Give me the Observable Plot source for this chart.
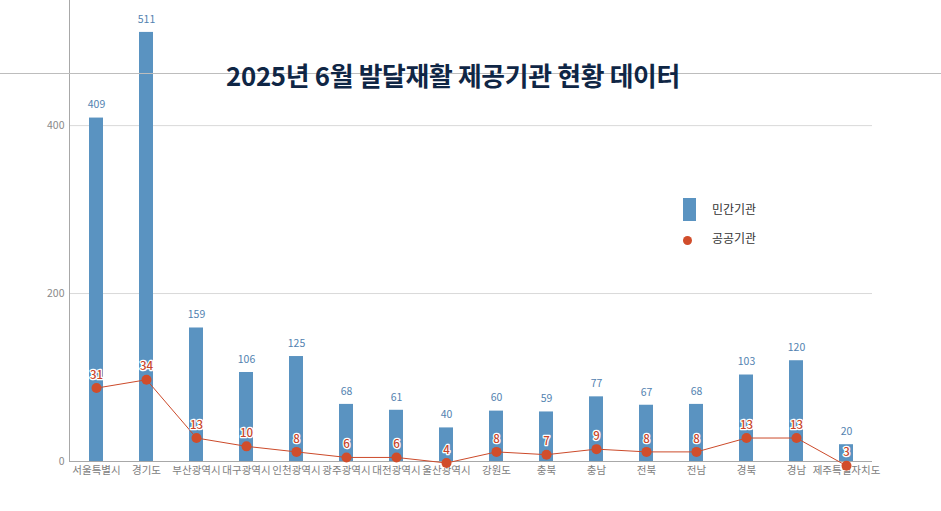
<!DOCTYPE html>
<html>
<head>
<meta charset="utf-8">
<script src="https://cdn.jsdelivr.net/npm/d3@7"></script>
<script src="https://cdn.jsdelivr.net/npm/@observablehq/plot@0.6"></script>
<style>
  html, body { margin: 0; padding: 0; background: #fff; }
  #wrap { position: relative; width: 941px; height: 511px; overflow: hidden; font-family: "Noto Sans CJK KR", "Noto Sans", sans-serif; }
  #topline { position: absolute; left: 0; top: 73px; width: 941px; height: 1px; background: #bdbdbd; }
  #title { position: absolute; left: 0; width: 906px; top: 56px; text-align: center; font-size: 25.8px; font-weight: 700; color: #0f2645; letter-spacing: -0.3px; }
  .leg { position: absolute; font-size: 12px; color: #333; }
</style>
</head>
<body>
<div id="wrap">
  <div id="topline"></div>
  <div id="chart"></div>
  <div id="title">2025년 6월 발달재활 제공기관 현황 데이터</div>
  <div class="leg" style="left:683px; top:198px; width:13px; height:23px; background:#5a93c1;"></div>
  <div class="leg" style="left:712px; top:200px;">민간기관</div>
  <div class="leg" style="left:683px; top:236px; width:9px; height:9px; border-radius:50%; background:#d14d2b;"></div>
  <div class="leg" style="left:712px; top:229px;">공공기관</div>
</div>
<script>
const regions = ["서울특별시","경기도","부산광역시","대구광역시","인천광역시","광주광역시","대전광역시","울산광역시","강원도","충북","충남","전북","전남","경북","경남","제주특별자치도"];
const privateCounts = [409,511,159,106,125,68,61,40,60,59,77,67,68,103,120,20];
const publicCounts = [31,34,13,10,8,6,6,4,8,7,9,8,8,13,13,3];

const rows = regions.map((r, i) => ({region: r, priv: privateCounts[i], pub: publicCounts[i]}));
// secondary axis for 공공기관, expressed in primary-axis units
const pubToPrimary = d3.scaleLinear().domain([4.54, 170.7]).range([0, 549]);

const font = "Noto Sans CJK KR, Noto Sans, sans-serif";
const chart = Plot.plot({
  width: 941,
  height: 511,
  marginLeft: 69,
  marginRight: 69,
  marginTop: 0,
  marginBottom: 50,
  style: {fontFamily: font, background: "transparent", overflow: "visible"},
  x: {domain: regions, padding: 0, label: null},
  y: {domain: [0, 549], label: null},
  marks: [
    Plot.gridY([200, 400], {stroke: "#d9d9d9", strokeOpacity: 1}),
    Plot.frame({anchor: "left", stroke: "#a8a8a8"}),
    Plot.axisY([0, 200, 400], {tickSize: 0, tickPadding: 5, fill: "#8a8a8a", fontSize: 10.5}),
    Plot.axisX({tickSize: 0, tickPadding: 5, fill: "#7d7d7d", fontSize: 10.5}),
    Plot.barY(rows, {x: "region", y: "priv", fill: "#5a93c1", insetLeft: 18, insetRight: 18}),
    Plot.ruleY([0], {stroke: "#a8a8a8"}),
    Plot.text(rows, {x: "region", y: "priv", text: d => String(d.priv), dy: -13, fill: "#5282b0", fontSize: 10.5}),
    Plot.line(rows, {x: "region", y: d => pubToPrimary(d.pub), stroke: "#cc4a2a", strokeWidth: 1}),
    Plot.dot(rows, {x: "region", y: d => pubToPrimary(d.pub), r: 5, fill: "#d14d2b", stroke: "none"}),
    Plot.text(rows, {x: "region", y: d => pubToPrimary(d.pub), text: d => String(d.pub), dy: -13, fill: "#c8452a", stroke: "white", strokeWidth: 2.5, fontSize: 11.5, fontWeight: 500})
  ]
});
document.getElementById("chart").appendChild(chart);
</script>
</body>
</html>
